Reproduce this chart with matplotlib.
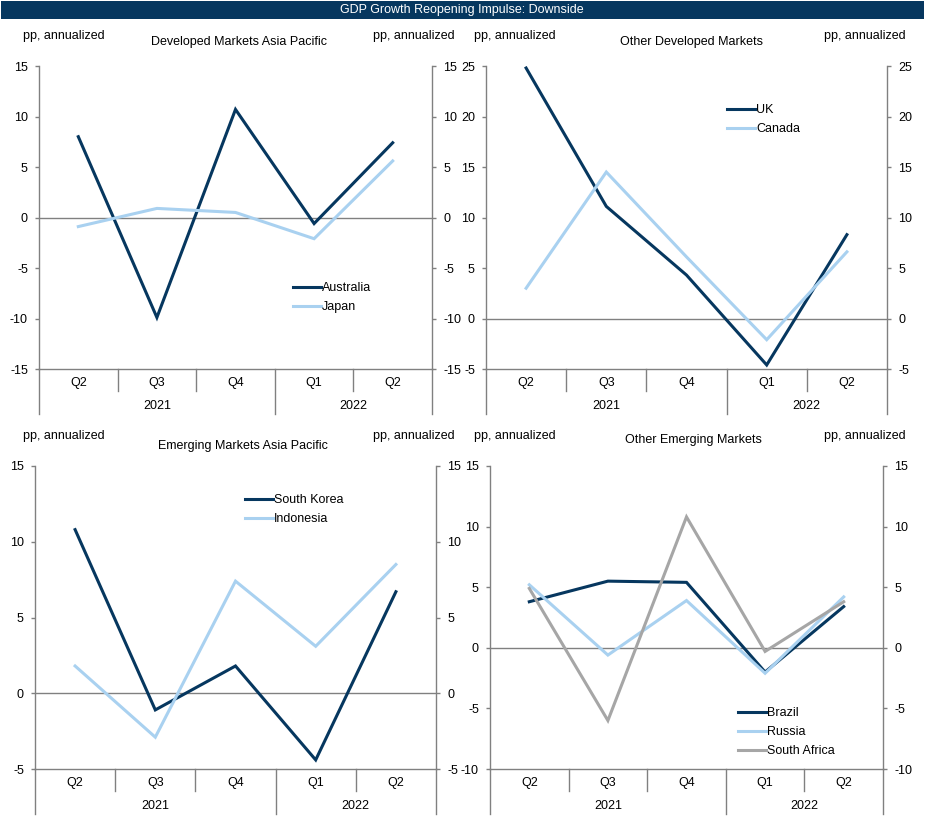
import matplotlib
matplotlib.use("Agg")
import matplotlib.pyplot as plt
import matplotlib.transforms as mtransforms
from matplotlib.patches import Rectangle
import numpy as np

plt.rcParams['font.family'] = ['Liberation Sans', 'DejaVu Sans']
plt.rcParams['font.size'] = 9

# ---------------- data ----------------
quarters = ['Q2', 'Q3', 'Q4', 'Q1', 'Q2']
years = ['2021', '2022']
year_spans = [3, 2]

dm_ap_names = ['Australia', 'Japan']
australia = [8.0, -9.9, 10.7, -0.6, 7.4]
japan = [-0.9, 0.9, 0.5, -2.1, 5.6]

odm_names = ['UK', 'Canada']
uk = [24.8, 11.1, 4.3, -4.6, 8.3]
canada = [3.0, 14.5, 6.1, -2.1, 6.6]

em_ap_names = ['South Korea', 'Indonesia']
south_korea = [10.8, -1.1, 1.8, -4.4, 6.7]
indonesia = [1.8, -2.9, 7.4, 3.1, 8.5]

oem_names = ['Brazil', 'Russia', 'South Africa']
brazil = [3.8, 5.5, 5.4, -2.0, 3.4]
russia = [5.2, -0.6, 3.9, -2.1, 4.2]
south_africa = [4.9, -6.0, 10.8, -0.3, 3.8]

main_title = 'GDP Growth Reopening Impulse: Downside'
unit_label = 'pp, annualized'

# ---------------- style ----------------
NAVY = '#06375F'
LIGHT = '#A9D1F0'
GREY = '#A6A6A6'
AXIS = '#808080'

W, H = 925, 827
fig = plt.figure(figsize=(W / 100, H / 100), dpi=100)
fig.patch.set_facecolor('white')

# title bar
fig.patches.append(Rectangle((1 / W, 1 - 19 / H), 923 / W, 18 / H,
                             transform=fig.transFigure, facecolor=NAVY,
                             edgecolor='none'))
fig.text(462 / W, 1 - 10.5 / H, main_title, color='white', ha='center',
         va='center', fontsize=9)


def panel(box, ylim, yticks, title, title_xy, pp_left, pp_right, series,
          names, colors, leg_xy):
    x0, x1, y0, y1 = box
    ax = fig.add_axes([x0 / W, 1 - y1 / H, (x1 - x0) / W, (y1 - y0) / H])
    ph = y1 - y0
    n = len(quarters)
    xs = np.arange(n) + 0.5
    for vals, name, col in zip(series, names, colors):
        ax.plot(xs, vals, color=col, lw=2.2, label=name, solid_joinstyle='miter')
    ax.set_xlim(0, n)
    ax.set_ylim(*ylim)
    ax.axhline(0, color=AXIS, lw=1.0, zorder=0)
    ax.set_yticks(yticks)
    ax.set_yticklabels([str(t) for t in yticks])
    ax.set_xticks([])
    ax.tick_params(axis='y', left=True, right=True, labelleft=True,
                   labelright=True, direction='out', length=3, pad=5,
                   color=AXIS, width=1.0, labelsize=9)
    ax.spines['top'].set_visible(False)
    for s in ('left', 'right', 'bottom'):
        ax.spines[s].set_color(AXIS)
        ax.spines[s].set_linewidth(1.0)
    trans = mtransforms.blended_transform_factory(ax.transData, ax.transAxes)
    q_len = 22 / ph
    y_len = 45 / ph
    # quarter separators & labels
    group_edges = np.cumsum([0] + year_spans)
    for i in range(1, n):
        L = y_len if i in group_edges else q_len
        ax.plot([i, i], [0, -L], transform=trans, color=AXIS, lw=1.0,
                clip_on=False)
    for e in (0, n):
        ax.plot([e, e], [0, -y_len], transform=trans, color=AXIS, lw=1.0,
                clip_on=False)
    for x, q in zip(xs, quarters):
        ax.text(x, -14 / ph, q, transform=trans, ha='center', va='center',
                fontsize=9)
    for k, yr in enumerate(years):
        c = (group_edges[k] + group_edges[k + 1]) / 2
        ax.text(c, -37 / ph, yr, transform=trans, ha='center', va='center',
                fontsize=9)
    # texts above
    fig.text(title_xy[0] / W, 1 - title_xy[1] / H, title, ha='center',
             va='center', fontsize=9)
    fig.text(pp_left[0] / W, 1 - pp_left[1] / H, unit_label, ha='left',
             va='center', fontsize=9)
    fig.text(pp_right[0] / W, 1 - pp_right[1] / H, unit_label, ha='left',
             va='center', fontsize=9)
    ax.legend(loc='upper left', bbox_to_anchor=(leg_xy[0] / W, 1 - leg_xy[1] / H),
              bbox_transform=fig.transFigure, frameon=False, handlelength=2.2,
              handletextpad=0.12, borderpad=0, borderaxespad=0,
              labelspacing=0.58, fontsize=9)
    return ax


panel((39, 432, 66, 369), (-15, 15), [-15, -10, -5, 0, 5, 10, 15],
      'Developed Markets Asia Pacific', (239, 42), (23, 36), (373, 36),
      [australia, japan], dm_ap_names, [NAVY, LIGHT], (293, 282))

panel((486, 887, 66, 369), (-5, 25), [-5, 0, 5, 10, 15, 20, 25],
      'Other Developed Markets', (692, 42), (474, 36), (824, 36),
      [uk, canada], odm_names, [NAVY, LIGHT], (727, 104))

panel((35, 436, 466, 769), (-5, 15), [-5, 0, 5, 10, 15],
      'Emerging Markets Asia Pacific', (243, 446), (23, 436), (373, 436),
      [south_korea, indonesia], em_ap_names, [NAVY, LIGHT], (245, 494))

panel((490, 883, 466, 769), (-10, 15), [-10, -5, 0, 5, 10, 15],
      'Other Emerging Markets', (693, 440), (474, 436), (824, 436),
      [brazil, russia, south_africa], oem_names, [NAVY, LIGHT, GREY],
      (738, 707))

fig.savefig('out.png', dpi=100, facecolor='white')
